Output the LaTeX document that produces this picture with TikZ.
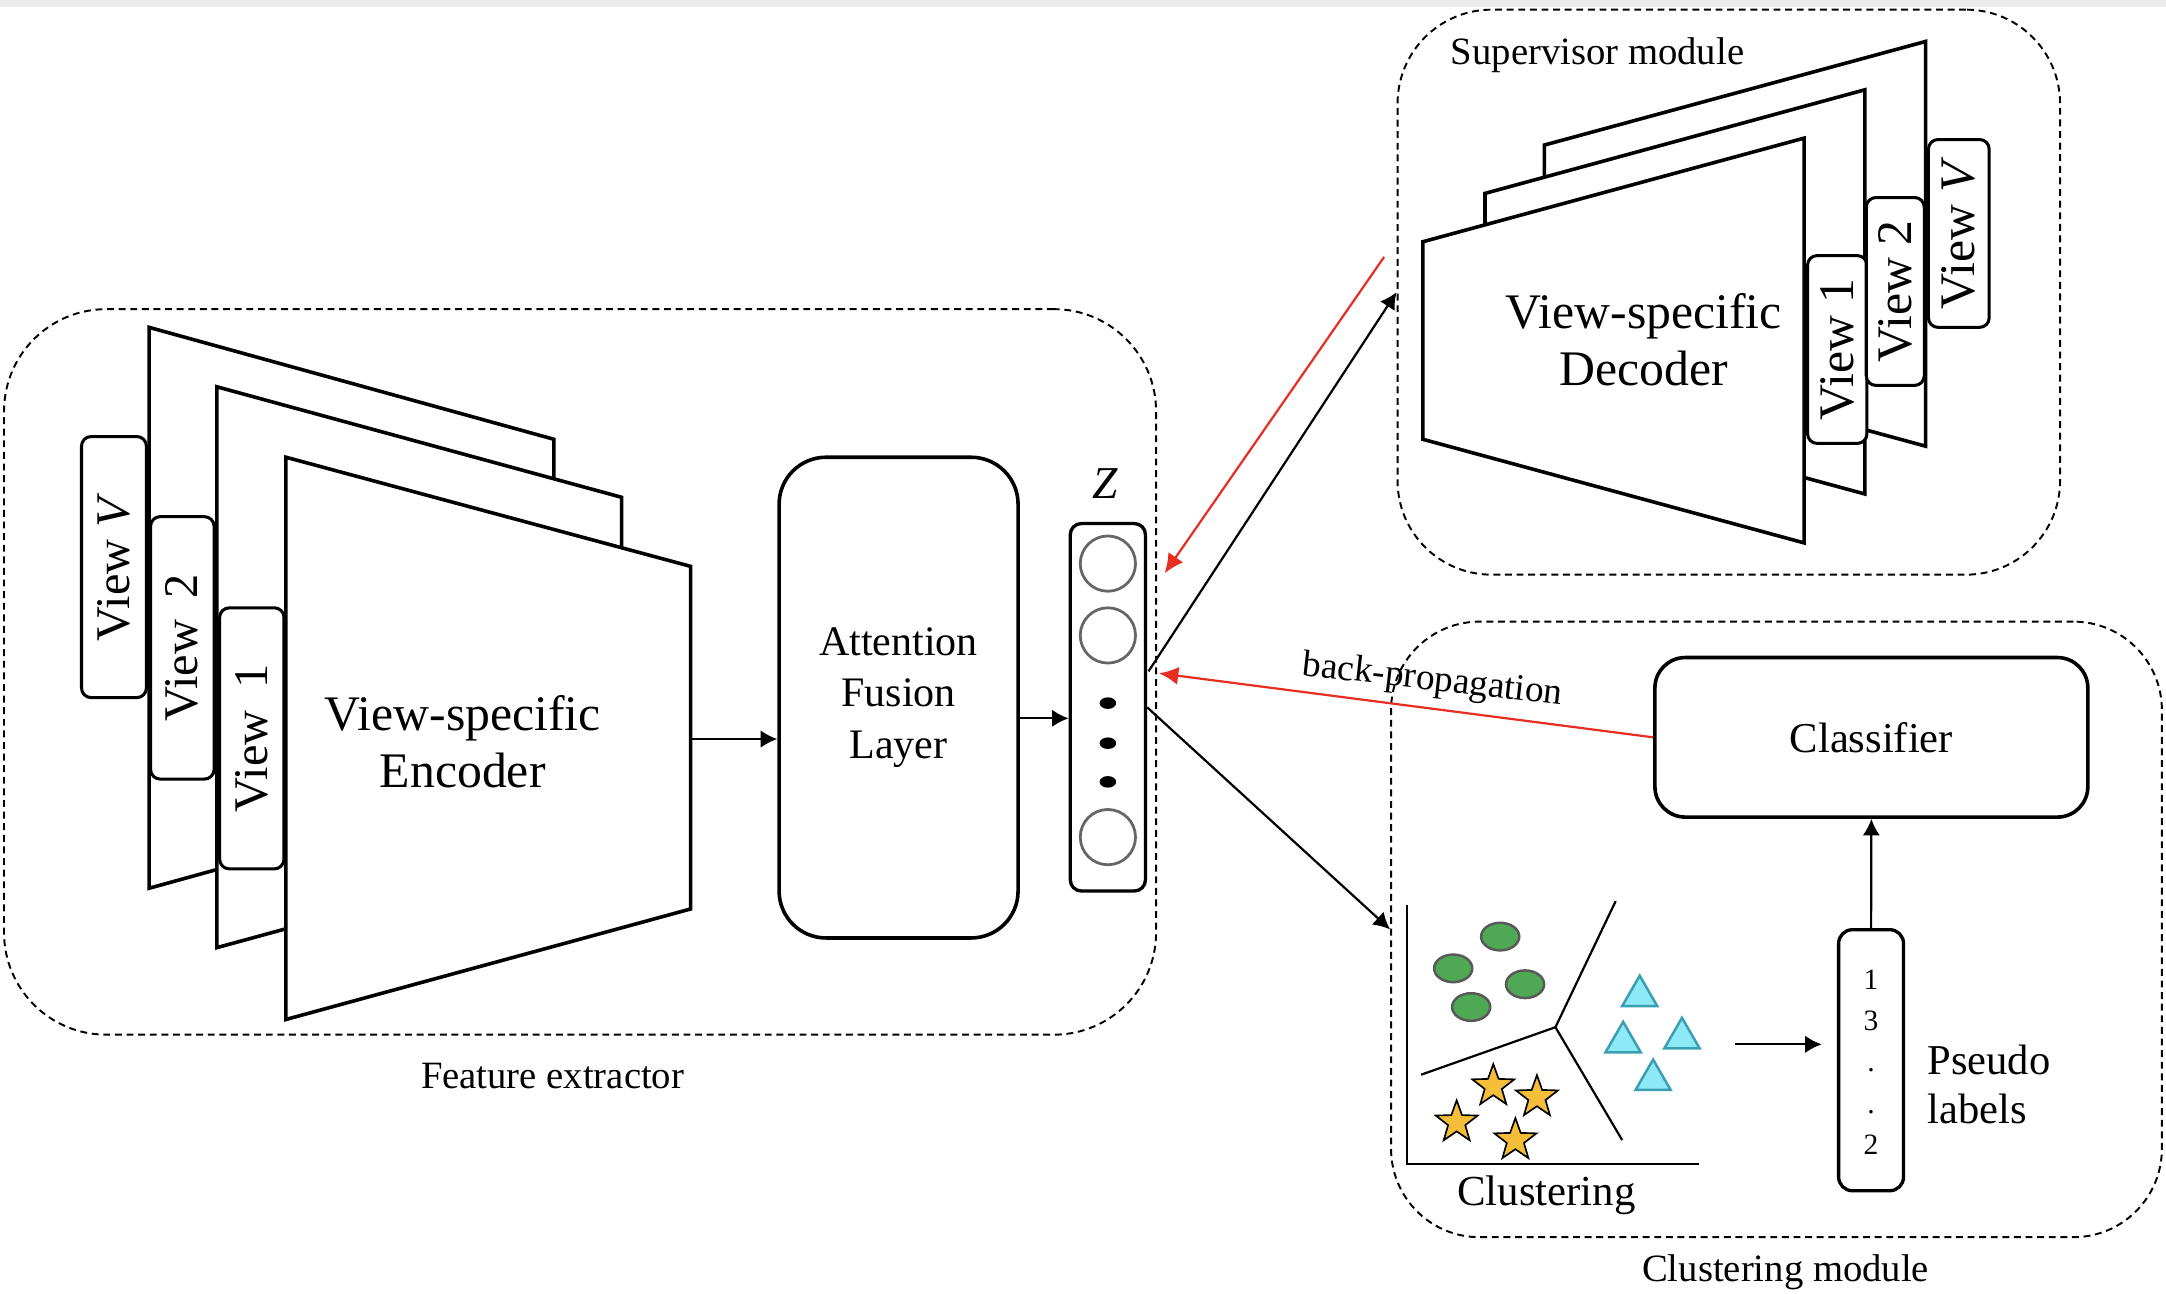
\documentclass[tikz,border=0pt]{standalone}
\usepackage{fontspec}
\setmainfont{Liberation Serif}
\usetikzlibrary{shapes.geometric,arrows.meta,calc}
\definecolor{myred}{RGB}{232,45,35}
\definecolor{mygreen}{RGB}{78,168,84}
\definecolor{mygold}{RGB}{244,189,58}
\definecolor{mycyan}{RGB}{142,233,246}
\definecolor{myteal}{RGB}{58,159,178}
\begin{document}
\begin{tikzpicture}[x=0.5pt,y=-0.5pt,
  trap/.style={draw, line width=1.3pt, fill=white, line join=miter},
  tab/.style={draw, line width=1.1pt, fill=white, rounded corners=3.5pt, rotate=90, inner sep=0pt, font=\fontsize{17.5}{20}\selectfont},
  module/.style={draw, dash pattern=on 2.5pt off 1.7pt, line width=0.7pt, rounded corners=36pt, inner sep=0pt},
  box/.style={draw, line width=1.3pt, fill=white, inner sep=0pt},
  lbl/.style={font=\fontsize{14}{16}\selectfont},
  bigtxt/.style={font=\fontsize{18}{20.5}\selectfont, align=center},
  arr/.style={-{Latex[length=6pt,width=6.3pt]}, line width=0.8pt},
  redarr/.style={-{Latex[length=7pt,width=6.5pt]}, line width=0.8pt, draw=myred, color=myred},
  zc/.style={circle, draw=black!60, line width=1pt, minimum size=20pt, inner sep=0pt},
  zdot/.style={ellipse, fill=black, minimum width=6pt, minimum height=4.2pt, inner sep=0pt},
  num/.style={font=\fontsize{10.7}{12}\selectfont, inner sep=0pt},
  plotline/.style={line width=0.8pt},
  grn/.style={ellipse, draw=black!65, fill=mygreen, line width=0.9pt, minimum width=13.8pt, minimum height=10pt, inner sep=0pt},
  tri/.style={regular polygon, regular polygon sides=3, draw=myteal, fill=mycyan, line width=0.9pt, minimum size=14.7pt, inner sep=0pt},
  stars/.style={star, star points=5, star point ratio=2.45, draw=black, fill=mygold, line width=0.6pt, minimum size=16pt, inner sep=0pt}
]
\useasboundingbox (0,0) rectangle (1568,936.7);
\fill[black!8] (0,0) rectangle (1568,5);

% modules
\node[module, minimum width=417pt, minimum height=262.6pt, rounded corners=37pt] (fe) at (419.9,486.4) {};
\node[module, minimum width=239.8pt, minimum height=204.5pt, rounded corners=34pt] (sup) at (1251.5,211.5) {};
\node[module, minimum width=279pt, minimum height=222.8pt, rounded corners=32pt] (cl) at (1286,672.8) {};
\node[lbl] (felbl) at (400,779) {Feature extractor};
\node[lbl] (suplbl) at (1156.5,40) {Supervisor module};
\node[lbl] (cllbl) at (1292.6,921) {Clustering module};

% encoder
\draw[trap] (108,237) -- (401,318) -- (401,562) -- (108,643) -- cycle;
\draw[trap] (157,280) -- (450,360) -- (450,606) -- (157,686) -- cycle;
\draw[trap] (207,331) -- (500,410) -- (500,658) -- (207,738) -- cycle;
\node[tab, minimum width=94.5pt, minimum height=23.5pt] (etV) at (82.5,410.5) {View \textit{V}};
\node[tab, minimum width=95pt, minimum height=23pt] (et2) at (132,469) {View\hspace{0.45em}2};
\node[tab, minimum width=94.5pt, minimum height=23.3pt] (et1) at (182.3,534.5) {View\hspace{0.45em}1};
\node[bigtxt] (enc) at (335,537) {View-specific\\Encoder};

% attention
\node[box, minimum width=86.5pt, minimum height=174pt, rounded corners=17pt, font=\fontsize{15.2}{18.5}\selectfont, align=center] (att) at (650.5,505) {Attention\\Fusion\\Layer};

% Z
\node[box, line width=1.2pt, minimum width=27.2pt, minimum height=133pt, rounded corners=4pt] (z) at (802,512) {};
\node[zc] (c1) at (802,408) {};
\node[zc] (c2) at (802,460) {};
\node[zc] (c3) at (802,606) {};
\node[zdot] (d1) at (802,509) {};
\node[zdot] (d2) at (802,538) {};
\node[zdot] (d3) at (802,566) {};
\node[font=\fontsize{16.5}{18}\selectfont\itshape] (zl) at (800,350) {Z};

% decoder
\draw[trap] (1394,30) -- (1118,105) -- (1118,248) -- (1394,323) -- cycle;
\draw[trap] (1350,65) -- (1075,140) -- (1075,283) -- (1350,357.6) -- cycle;
\draw[trap] (1306,100) -- (1030,175) -- (1030,318) -- (1306,393) -- cycle;
\node[tab, minimum width=68pt, minimum height=21.5pt, font=\fontsize{18}{20}\selectfont] (dt1) at (1330,253) {View 1};
\node[tab, minimum width=68pt, minimum height=21pt, font=\fontsize{18}{20}\selectfont] (dt2) at (1372,211) {View 2};
\node[tab, minimum width=68pt, minimum height=22pt, font=\fontsize{18}{20}\selectfont] (dtV) at (1418,169) {View \textit{V}};
\node[bigtxt] (dec) at (1190,246) {View-specific\\Decoder};

% clustering module
\node[box, minimum width=156.7pt, minimum height=57.75pt, rounded corners=11pt, font=\fontsize{15.4}{18}\selectfont] (cls) at (1354.7,533.75) {Classifier};
\node[box, line width=1.2pt, minimum width=23.5pt, minimum height=94.5pt, rounded corners=5pt] (pl) at (1354.5,767.5) {};
\node[num] (n1) at (1354.5,709) {1};
\node[num] (n2) at (1354.5,739) {3};
\node[num] (n3) at (1354.5,775) {.};
\node[num] (n4) at (1354.5,805) {.};
\node[num] (n5) at (1354.5,829) {2};
\node[font=\fontsize{15.4}{17.8}\selectfont, align=left, anchor=west, inner sep=0pt] (pslbl) at (1395,785) {Pseudo\\labels};

% plot
\draw[plotline] (1018.3,654.9) -- (1018.3,842.7) -- (1229.8,842.7);
\coordinate (j) at (1126,743.6);
\draw[plotline] (j) -- (1169.6,652.3);
\draw[plotline] (j) -- (1028.7,778);
\draw[plotline] (j) -- (1174.3,825.3);
\node[grn] (g1) at (1086,678) {};
\node[grn] (g2) at (1052,701) {};
\node[grn] (g3) at (1104,712.5) {};
\node[grn] (g4) at (1065,729) {};
\node[tri] (t1) at (1187,721) {};
\node[tri] (t2) at (1175,754.4) {};
\node[tri] (t3) at (1217.6,751.5) {};
\node[tri] (t4) at (1196.7,781.7) {};
\node[stars] (s1) at (1081,786.3) {};
\node[stars] (s2) at (1112.6,794.3) {};
\node[stars] (s3) at (1054.5,812.5) {};
\node[stars] (s4) at (1097,825.4) {};
\node[font=\fontsize{15.5}{18}\selectfont] (clu) at (1119.5,865) {Clustering};

% connectors
\coordinate (encout) at (500,535);
\draw[arr] (encout) -- (encout -| att.west);
\coordinate (attout) at ($(att.east)+(0,15)$);
\draw[arr] (attout) -- (attout -| z.west);
\draw[arr] ($(z.east)+(1,-26)$) -- (sup.west);
\draw[arr] (z.east) -- (cl.west);
\coordinate (rs) at (1002,186);
\draw[redarr] (rs) -- ($(z.east)+(12.7,-97)$);
\draw[redarr] (cls.west) -- ($(z.east)+(8.6,-24.6)$);
\node[font=\fontsize{13.5}{15}\selectfont, rotate=-6.5] (bp) at (1037,493) {back-propagation};
\coordinate (clout) at (1256,756);
\draw[arr] (clout) -- ($(pl.west)+(-11,-11.5)$);
\draw[arr] (pl.north) -- (cls.south);
\end{tikzpicture}
\end{document}
